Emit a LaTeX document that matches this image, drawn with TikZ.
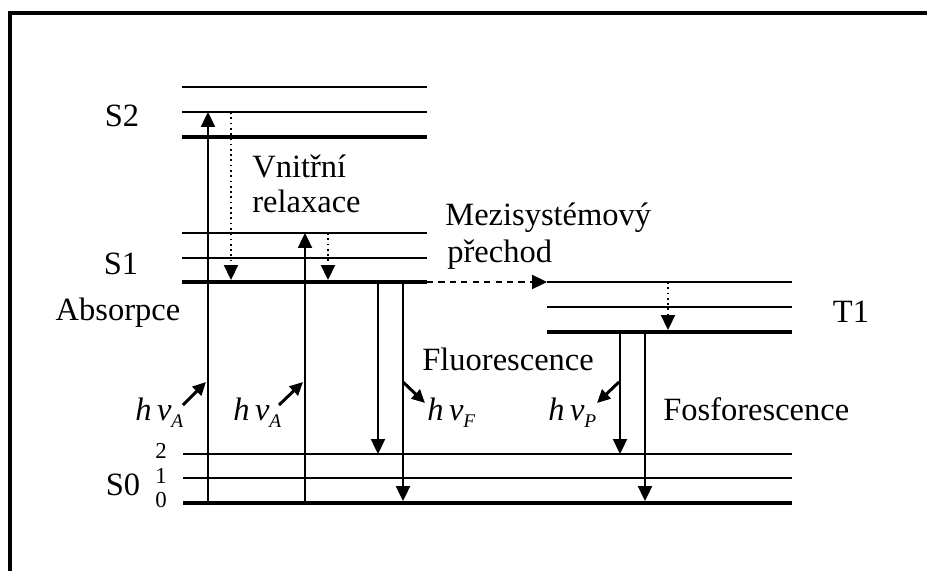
\documentclass[tikz,border=0pt]{standalone}
\usepackage{fontspec}
\setmainfont{Liberation Serif}
\usetikzlibrary{arrows.meta}

\newcommand{\phsub}[1]{\raisebox{-4pt}{\fontsize{11}{12}\selectfont #1}}

\begin{document}
\begin{tikzpicture}[x=0.02cm, y=-0.02cm,
    thin lvl/.style={line width=1.1pt},
    thick lvl/.style={line width=2.8pt},
    trans/.style={line width=1.1pt, -{Triangle[length=8.5pt, width=8pt]}},
    relax/.style={line width=1pt, dotted, -{Triangle[length=8.5pt, width=8pt]}},
    isc/.style={line width=1.1pt, dash pattern=on 3.5pt off 3pt, -{Triangle[length=8.5pt, width=8pt]}},
    photon/.style={line width=1.7pt, -{Triangle[length=7.5pt, width=7pt]}},
    lbl/.style={font=\fontsize{18.5}{20}\selectfont, inner sep=0pt, anchor=base},
    lblw/.style={lbl, anchor=base west},
    num/.style={font=\fontsize{13}{14}\selectfont, inner sep=0pt, anchor=base}
]
\useasboundingbox (0,0) rectangle (927,571);

% frame
\draw[line width=1.8pt] (10,571) -- (10,13) -- (927,13);

% singlet S2
\draw[thin lvl] (182,87) -- (427,87);
\draw[thin lvl] (182,112) -- (427,112);
\draw[thick lvl] (182,137) -- (427,137);
% singlet S1
\draw[thin lvl] (182,233) -- (427,233);
\draw[thin lvl] (182,258) -- (427,258);
\draw[thick lvl] (182,282) -- (427,282);
% triplet T1
\draw[thin lvl] (547,282) -- (792,282);
\draw[thin lvl] (547,307) -- (792,307);
\draw[thick lvl] (547,332) -- (792,332);
% ground state S0
\draw[thin lvl] (183,454) -- (792,454);
\draw[thin lvl] (183,478) -- (792,478);
\draw[thick lvl] (183,503) -- (792,503);

% level labels
\node[lbl] (S2) at (122,127) {S2};
\node[lbl] (S1) at (121,275) {S1};
\node[lbl] (T1) at (851,322) {T1};
\node[lbl] (S0) at (123,495) {S0};
\node[num] (v2) at (161,458) {2};
\node[num] (v1) at (161,483) {1};
\node[num] (v0) at (161,507) {0};

% process labels
\node[lbl] (abs) at (118,320) {Absorpce};
\node[lblw] (ic1) at (252,177) {Vnitřní};
\node[lblw] (ic2) at (252,213) {relaxace};
\node[lblw] (isc1) at (445,225) {Mezisystémový};
\node[lblw] (isc2) at (447,262) {přechod};
\node[lblw] (fl) at (422,370) {Fluorescence};
\node[lblw] (ph) at (663,420) {Fosforescence};

% photon labels
\node[lblw] (hA1) at (135,420) {\itshape h\,ν\phsub{A}};
\node[lblw] (hA2) at (233,420) {\itshape h\,ν\phsub{A}};
\node[lblw] (hF) at (427,420) {\itshape h\,ν\phsub{F}};
\node[lblw] (hP) at (548,420) {\itshape h\,ν\phsub{P}};

% transition end points
\coordinate (a1lo) at (208,503);
\coordinate (a1hi) at (208,112);
\coordinate (a2lo) at (305,503);
\coordinate (a2hi) at (305,233);
\coordinate (r1hi) at (231,112);
\coordinate (r1lo) at (231,280);
\coordinate (r2hi) at (328,233);
\coordinate (r2lo) at (328,280);
\coordinate (f1hi) at (378,282);
\coordinate (f1lo) at (378,454);
\coordinate (f2hi) at (403,282);
\coordinate (f2lo) at (403,501);
\coordinate (iscA) at (427,282);
\coordinate (iscB) at (547,282);
\coordinate (r3hi) at (668,282);
\coordinate (r3lo) at (668,330);
\coordinate (p1hi) at (620,332);
\coordinate (p1lo) at (620,454);
\coordinate (p2hi) at (645,332);
\coordinate (p2lo) at (645,501);

% absorption
\draw[trans] (a1lo) -- (a1hi);
\draw[trans] (a2lo) -- (a2hi);
% internal relaxation
\draw[relax] (r1hi) -- (r1lo);
\draw[relax] (r2hi) -- (r2lo);
\draw[relax] (r3hi) -- (r3lo);
% fluorescence
\draw[trans] (f1hi) -- (f1lo);
\draw[trans] (f2hi) -- (f2lo);
% intersystem crossing
\draw[isc] (iscA) -- (iscB);
% phosphorescence
\draw[trans] (p1hi) -- (p1lo);
\draw[trans] (p2hi) -- (p2lo);

% photons
\coordinate (pA1) at (183,405);
\coordinate (pA2) at (279,405);
\coordinate (pF) at (425,403);
\coordinate (pP) at (597,403);
\draw[photon] (pA1) -- (206,382);
\draw[photon] (pA2) -- (303,382);
\draw[photon] (403,382) -- (pF);
\draw[photon] (619,382) -- (pP);

\end{tikzpicture}
\end{document}
